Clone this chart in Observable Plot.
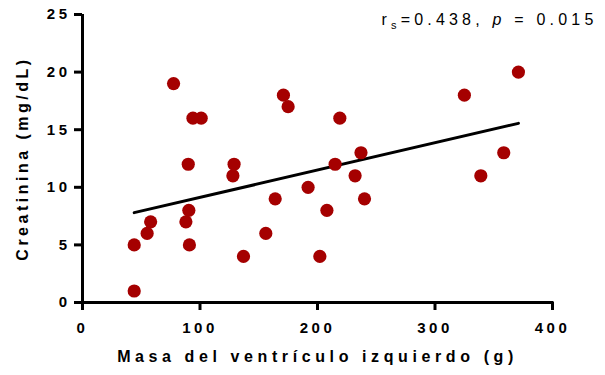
<!DOCTYPE html>
<html>
<head>
<meta charset="utf-8">
<script src="https://cdn.jsdelivr.net/npm/d3@7"></script>
<script src="https://cdn.jsdelivr.net/npm/@observablehq/plot@0.6"></script>
<style>
  body { margin: 0; background: #fff; }
  #chart svg { display: block; }
</style>
</head>
<body>
<div id="chart"></div>
<script>
// Data
const lvMass = [44, 44, 55, 58, 77.5, 88, 90.5, 91, 90, 94, 101, 129, 128, 137, 156, 164, 171, 175, 192, 202, 208, 215, 219, 232, 237, 240, 325, 339, 358.5, 371];
const creatinine = [5, 1, 6, 7, 19, 7, 8, 5, 12, 16, 16, 12, 11, 4, 6, 9, 18, 17, 10, 4, 8, 12, 16, 11, 13, 9, 18, 11, 13, 20];
const fitX = [44, 371];
const fitY = [7.8, 15.55];
const xTicks = [0, 100, 200, 300, 400];
const yTicks = [0, 5, 10, 15, 20, 25];
const xTitle = "Masa del ventrículo izquierdo (g)";
const yTitle = "Creatinina (mg/dL)";
const statText = "rs=0.438, p = 0.015";

const points = lvMass.map((x, i) => ({x, y: creatinine[i]}));
const fit = fitX.map((x, i) => ({x, y: fitY[i]}));

const chart = Plot.plot({
  width: 605,
  height: 375,
  marginLeft: 82,
  marginRight: 53,
  marginTop: 14,
  marginBottom: 73,
  style: {fontFamily: "'Liberation Sans', Arial, sans-serif", background: "#fff", color: "#000"},
  x: {domain: [0, 400]},
  y: {domain: [0, 25]},
  marks: [
    Plot.axisX({ticks: xTicks, tickSize: 8, tickPadding: 12, tickFormat: d => String(d), fontSize: 15, fontWeight: "bold", strokeWidth: 3, label: null}),
    Plot.axisY({ticks: yTicks, tickSize: 8, tickPadding: 4, tickFormat: d => String(d), fontSize: 15, fontWeight: "bold", strokeWidth: 3, label: null}),
    Plot.ruleY([0], {strokeWidth: 3, strokeLinecap: "square"}),
    Plot.ruleX([0], {strokeWidth: 3}),
    Plot.line(fit, {x: "x", y: "y", stroke: "#000", strokeWidth: 3}),
    Plot.dot(points, {x: "x", y: "y", r: 6.6, fill: "#a50000", stroke: "none"}),
    Plot.text([yTitle], {frameAnchor: "left", textAnchor: "middle", rotate: -90, dx: -60, fontSize: 16, fontWeight: "bold"}),
    Plot.text([xTitle], {frameAnchor: "bottom", textAnchor: "middle", dy: 59, fontSize: 16, fontWeight: "bold"}),
    Plot.text([statText], {frameAnchor: "top-right", textAnchor: "end", dx: 45, dy: -1, fontSize: 16})
  ]
});

document.getElementById("chart").appendChild(chart);

// letter spacing styles
const svg = d3.select(chart);
svg.selectAll('g[aria-label="x-axis tick label"] text, g[aria-label="y-axis tick label"] text')
  .style("letter-spacing", "3.5px");
svg.selectAll('g[aria-label="text"] text').each(function() {
  const t = d3.select(this);
  const s = t.text();
  if (s === xTitle) {
    t.style("letter-spacing", "4.6px");
  } else if (s === yTitle) {
    t.style("letter-spacing", "3.5px");
  } else if (s === statText) {
    t.style("letter-spacing", "4.2px");
    t.text(null);
    t.append("tspan").text("r");
    t.append("tspan").attr("font-size", 11).attr("dy", 4).text("s");
    t.append("tspan").attr("dy", -4).text("=0.438, ");
    t.append("tspan").attr("font-style", "italic").text("p");
    t.append("tspan").text(" = 0.015");
  }
});
</script>
</body>
</html>
